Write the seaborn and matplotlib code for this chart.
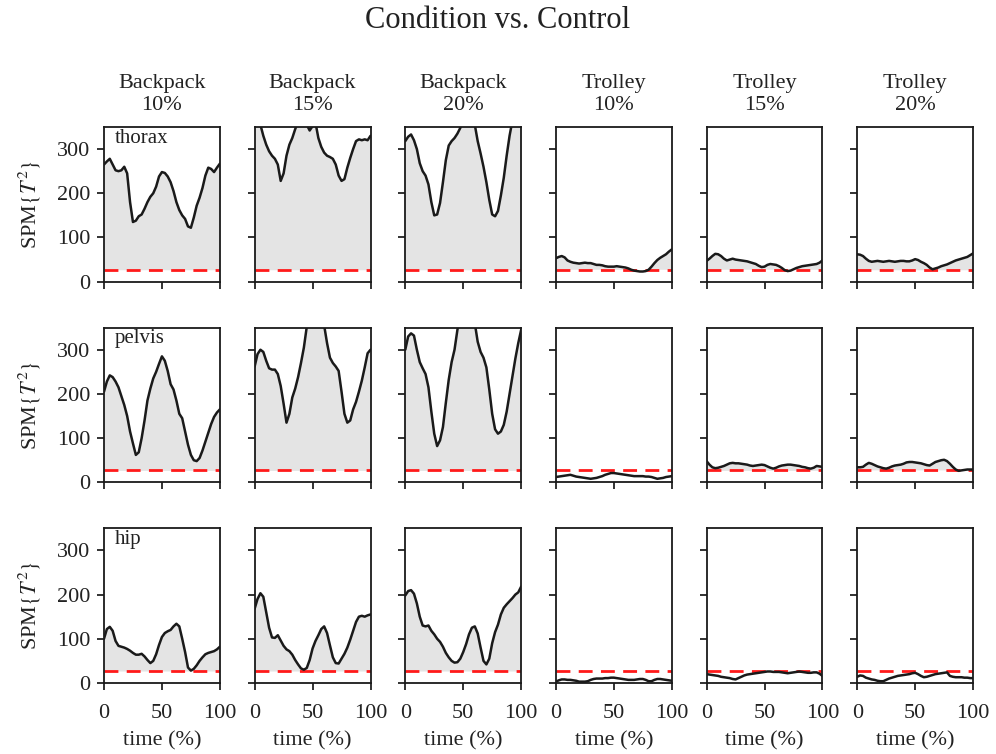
import numpy as np
import pandas as pd
import matplotlib
matplotlib.use("Agg")
import matplotlib.pyplot as plt
import seaborn as sns

# ---------------- data ----------------
time = [0, 2.5, 5, 7.5, 10, 12.5, 15, 17.5, 20, 22.5, 25, 27.5, 30, 32.5, 35, 37.5,
        40, 42.5, 45, 47.5, 50, 52.5, 55, 57.5, 60, 62.5, 65, 67.5, 70, 72.5, 75,
        77.5, 80, 82.5, 85, 87.5, 90, 92.5, 95, 97.5, 100]

conditions = ["Backpack\n10%", "Backpack\n15%", "Backpack\n20%",
              "Trolley\n10%", "Trolley\n15%", "Trolley\n20%"]
segments = ["thorax", "pelvis", "hip"]
threshold = 27

thorax_bp10 = [265, 272, 278, 265, 252, 250, 252, 260, 245, 180, 135, 138, 148, 152, 165, 180,
               192, 200, 215, 238, 248, 246, 238, 225, 205, 180, 162, 150, 142, 125, 122,
               145, 172, 190, 212, 240, 258, 255, 248, 258, 267]
thorax_bp15 = [400, 380, 355, 330, 310, 295, 285, 278, 265, 228, 245, 285, 310, 325, 345, 362,
               370, 365, 355, 342, 352, 360, 325, 305, 292, 285, 282, 278, 265, 240, 228,
               232, 258, 280, 300, 318, 322, 320, 322, 320, 330]
thorax_bp20 = [318, 328, 333, 320, 300, 268, 250, 240, 220, 180, 150, 152, 178, 225, 275, 308,
               318, 325, 335, 348, 365, 380, 390, 375, 355, 318, 290, 260, 225, 185, 152,
               148, 160, 195, 235, 285, 330, 365, 390, 400, 410]
thorax_tr10 = [53, 56, 58, 55, 48, 45, 43, 42, 41, 42, 43, 42, 42, 40, 38, 38,
               37, 35, 34, 34, 34, 35, 34, 33, 32, 30, 27, 25, 24, 23, 23,
               24, 27, 34, 42, 49, 54, 58, 62, 68, 73]
thorax_tr15 = [47, 52, 58, 63, 62, 58, 52, 48, 50, 52, 50, 49, 48, 47, 46, 44,
               42, 40, 36, 33, 34, 38, 40, 39, 38, 35, 31, 26, 24, 25, 28,
               31, 33, 35, 36, 37, 38, 39, 40, 43, 48]
thorax_tr20 = [62, 61, 58, 52, 47, 45, 46, 47, 46, 45, 46, 47, 46, 45, 46, 47,
               47, 46, 46, 48, 51, 49, 45, 42, 38, 32, 28, 30, 32, 35, 37,
               39, 42, 45, 48, 50, 52, 54, 56, 60, 64]

pelvis_bp10 = [205, 228, 242, 238, 228, 215, 195, 175, 150, 115, 88, 62, 68, 100, 140, 185,
               212, 235, 250, 268, 285, 275, 252, 222, 210, 185, 155, 145, 115, 85, 62,
               50, 48, 55, 72, 92, 112, 132, 148, 158, 165]
pelvis_bp15 = [262, 290, 300, 295, 275, 258, 255, 255, 245, 218, 178, 135, 155, 192, 212, 238,
               270, 305, 352, 385, 400, 400, 395, 380, 355, 315, 282, 270, 262, 252, 205,
               155, 135, 140, 165, 182, 205, 230, 260, 292, 300]
pelvis_bp20 = [300, 330, 337, 332, 300, 272, 258, 245, 215, 160, 110, 82, 95, 125, 180, 232,
               272, 300, 345, 380, 400, 405, 400, 385, 360, 318, 295, 282, 260, 210, 155,
               120, 110, 115, 130, 160, 200, 240, 280, 315, 345]
pelvis_tr10 = [12, 13, 14, 15, 16, 17, 15, 13, 12, 11, 10, 9, 8, 9, 10, 12,
               14, 17, 19, 21, 21, 20, 19, 18, 17, 16, 15, 14, 14, 14, 14,
               13, 13, 12, 10, 8, 9, 10, 12, 13, 14]
pelvis_tr15 = [48, 40, 34, 32, 33, 35, 37, 40, 43, 44, 43, 43, 42, 41, 40, 38,
               37, 38, 39, 40, 39, 36, 33, 31, 33, 36, 38, 39, 40, 40, 39,
               38, 37, 35, 34, 32, 31, 33, 37, 36, 35]
pelvis_tr20 = [34, 34, 35, 40, 44, 42, 39, 36, 34, 32, 31, 33, 36, 38, 39, 40,
               42, 45, 46, 46, 45, 44, 43, 41, 39, 38, 42, 46, 48, 50, 51,
               48, 42, 35, 29, 26, 27, 28, 29, 29, 29]

hip_bp10 = [100, 122, 127, 118, 95, 84, 82, 80, 77, 73, 68, 64, 64, 66, 60, 52,
            45, 50, 65, 86, 104, 113, 117, 120, 128, 134, 128, 100, 70, 35, 28,
            32, 40, 50, 58, 65, 68, 70, 72, 76, 82]
hip_bp15 = [168, 190, 203, 195, 160, 125, 103, 102, 108, 96, 84, 76, 72, 64, 52, 42,
            33, 30, 34, 52, 78, 95, 108, 122, 128, 113, 85, 58, 45, 44, 55,
            66, 80, 98, 118, 138, 150, 152, 150, 153, 155]
hip_bp20 = [198, 208, 210, 202, 180, 150, 130, 128, 130, 118, 110, 100, 93, 82, 68, 58,
            50, 46, 47, 55, 70, 88, 110, 125, 128, 112, 80, 50, 42, 55, 90,
            115, 132, 155, 170, 178, 185, 192, 200, 205, 218]
hip_tr10 = [3, 6, 8, 8, 7, 7, 6, 5, 3, 3, 3, 4, 7, 9, 10, 10,
            10, 11, 11, 12, 12, 11, 10, 9, 8, 7, 7, 7, 8, 9, 9,
            7, 4, 4, 7, 9, 9, 8, 7, 6, 5]
hip_tr15 = [20, 19, 18, 17, 16, 14, 13, 12, 11, 9, 8, 11, 14, 17, 19, 20,
            21, 22, 23, 24, 25, 26, 26, 25, 25, 25, 24, 23, 22, 23, 24,
            25, 26, 25, 24, 23, 23, 24, 24, 21, 16]
hip_tr20 = [14, 17, 16, 12, 10, 8, 7, 5, 4, 4, 7, 10, 12, 14, 16, 17,
            18, 19, 20, 22, 23, 20, 16, 13, 14, 16, 18, 20, 21, 22, 23,
            24, 16, 14, 13, 13, 13, 12, 12, 11, 11]

series = {
    "thorax": [thorax_bp10, thorax_bp15, thorax_bp20, thorax_tr10, thorax_tr15, thorax_tr20],
    "pelvis": [pelvis_bp10, pelvis_bp15, pelvis_bp20, pelvis_tr10, pelvis_tr15, pelvis_tr20],
    "hip": [hip_bp10, hip_bp15, hip_bp20, hip_tr10, hip_tr15, hip_tr20],
}

rows = []
for seg in segments:
    for cond, vals in zip(conditions, series[seg]):
        for t, v in zip(time, vals):
            rows.append({"segment": seg, "condition": cond, "time": t, "T2": v})
df = pd.DataFrame(rows)

# ---------------- style ----------------
sns.set_theme(style="ticks")
plt.rcParams["font.family"] = ["Liberation Serif", "DejaVu Serif"]
plt.rcParams["mathtext.fontset"] = "stix"
plt.rcParams["axes.linewidth"] = 1.3
plt.rcParams["xtick.major.width"] = 1.3
plt.rcParams["ytick.major.width"] = 1.3
plt.rcParams["xtick.major.size"] = 5
plt.rcParams["ytick.major.size"] = 5

fig, axes = plt.subplots(3, 6, figsize=(9.96, 7.54), dpi=100, sharex=True, sharey=True)
fig.subplots_adjust(left=0.1044, right=0.977, top=0.8316, bottom=0.0942,
                    wspace=0.30, hspace=0.297)

for i, seg in enumerate(segments):
    for j, cond in enumerate(conditions):
        ax = axes[i, j]
        d = df[(df.segment == seg) & (df.condition == cond)]
        x = d["time"].to_numpy()
        y = d["T2"].to_numpy(dtype=float)
        # dense grid so the suprathreshold fill follows the curve closely
        xf = np.linspace(0, 100, 801)
        yf = np.interp(xf, x, y)
        ax.fill_between(xf, threshold, yf, where=yf > threshold, color="#e4e4e4",
                        linewidth=0, zorder=1)
        sns.lineplot(data=d, x="time", y="T2", ax=ax, color="k", lw=1.8, zorder=3)
        ax.axhline(threshold, color="#ff1a1a", ls=(0, (5, 3)), lw=2.0, zorder=2)
        ax.axhline(0, color="k", ls=(0, (3, 2)), lw=0.8, zorder=2)
        ax.set_xlim(0, 100)
        ax.set_ylim(0, 350)
        ax.set_xticks([0, 50, 100])
        ax.set_yticks([0, 100, 200, 300])
        ax.tick_params(axis="x", labelsize=16, pad=10, colors="#222222")
        ax.tick_params(axis="y", labelsize=16, pad=5, colors="#222222")
        for sp in ax.spines.values():
            sp.set_visible(True)
            sp.set_color("k")
        ax.set_xlabel("time (%)" if i == 2 else "", fontsize=16, labelpad=6,
                      color="#222222")
        if j == 0:
            ax.set_ylabel(r"SPM$\{T^2\}$", fontsize=16, labelpad=10, color="#222222")
            ax.text(0.09, 0.99, seg, transform=ax.transAxes, ha="left", va="top",
                    fontsize=15, color="#222222")
        else:
            ax.set_ylabel("")
        if i == 0:
            ax.set_title(cond, fontsize=16, linespacing=1.25, pad=12, color="#222222")

fig.suptitle("Condition vs. Control", fontsize=22, y=0.992, color="#222222")
fig.savefig("out.png", dpi=100)
